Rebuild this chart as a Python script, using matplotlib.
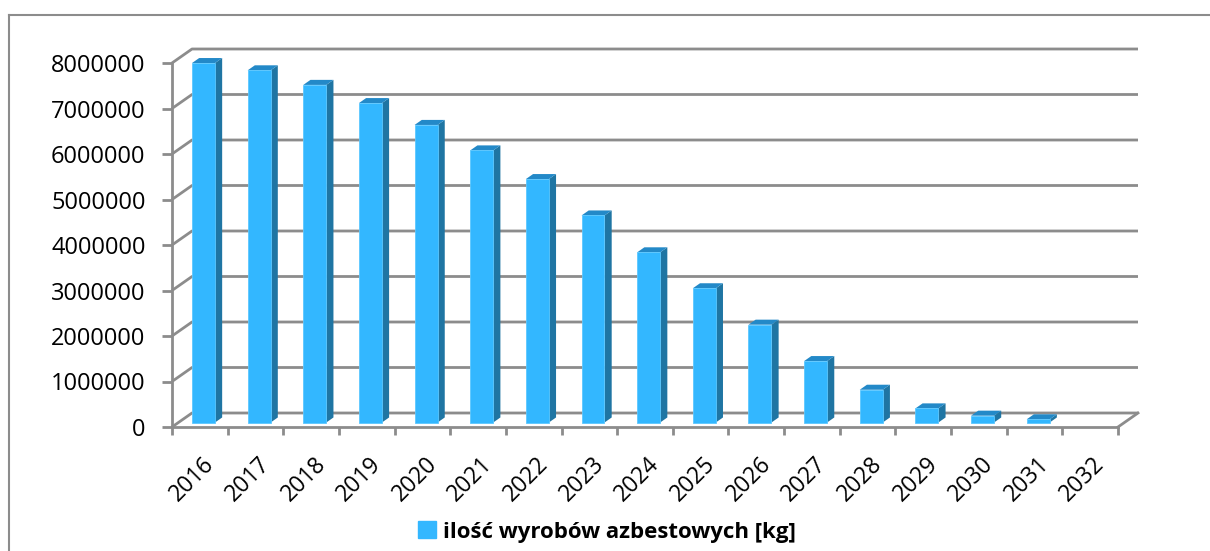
import matplotlib.pyplot as plt
from matplotlib.patches import Patch
from matplotlib.lines import Line2D

years = [str(y) for y in range(2016, 2033)]
values = [7900000, 7740000, 7420000, 7020000, 6540000, 5980000, 5350000,
          4550000, 3740000, 2950000, 2150000, 1350000, 720000, 310000,
          150000, 70000, 0]
yticks = list(range(0, 8000001, 1000000))
legend_label = 'ilość wyrobów azbestowych [kg]'

plt.rcParams['font.family'] = ['Open Sans', 'DejaVu Sans']

W, H = 1210, 551
fig = plt.figure(figsize=(W / 100, H / 100), dpi=100)
# front plane of the 3d box, in pixels
x0, x1, yb, yt = 172, 1118, 427, 63
ax = fig.add_axes([x0 / W, 1 - yb / H, (x1 - x0) / W, (yb - yt) / H])
n = len(years)
ymax = 8000000
ax.set_xlim(0, n)
ax.set_ylim(0, ymax)

# depth of the box in pixels -> data units
px_x = n / (x1 - x0)
px_y = ymax / (yb - yt)
DX, DY = 20 * px_x, 14 * px_y

grid = '#8c8c8c'
front = '#33b7ff'
side = '#1f75a3'
top = '#2389c8'

# back wall gridlines + left wall diagonals
for v in yticks:
    ax.plot([0, DX, n + DX], [v, v + DY, v + DY], color=grid, lw=2,
            solid_capstyle='butt', zorder=1, clip_on=False)
# floor right edge
ax.plot([n, n + DX], [0, DY], color=grid, lw=2, zorder=1, clip_on=False)

# 3d bars
f0, f1 = 0.32, 0.68
bw = 0.413
for i, v in enumerate(values):
    xl = i + 0.244 + f0 * DX
    xr = xl + bw
    yb0 = f0 * DY
    d = (f1 - f0)
    if v > 0:
        ax.fill([xr, xr + d * DX, xr + d * DX, xr],
                [yb0, yb0 + d * DY, yb0 + v + d * DY, yb0 + v],
                color=side, lw=0, zorder=3, clip_on=False)
        ax.fill([xl, xr, xr + d * DX, xl + d * DX],
                [yb0 + v, yb0 + v, yb0 + v + d * DY, yb0 + v + d * DY],
                color=top, lw=0, zorder=3, clip_on=False)
        ax.bar(xl, v, bottom=yb0, width=bw, align='edge', color=front,
               edgecolor='#5cc8ff', lw=0.6, zorder=4, clip_on=False)

for s in ['top', 'right']:
    ax.spines[s].set_visible(False)
for s in ['left', 'bottom']:
    ax.spines[s].set_color(grid)
    ax.spines[s].set_linewidth(2)

ax.set_yticks(yticks)
ax.set_yticklabels([str(v) for v in yticks])
ax.tick_params(axis='y', length=7, width=2, color=grid, pad=12,
               labelsize=17, labelcolor='black')
ax.set_xticks(range(n + 1))
ax.set_xticklabels([])
ax.set_xticks([i + 0.545 for i in range(n)], minor=True)
ax.set_xticklabels(years, minor=True, rotation=45, ha='right',
                   rotation_mode='anchor')
ax.tick_params(axis='x', which='major', length=6, width=2, color=grid)
ax.tick_params(axis='x', which='minor', length=0, pad=18, labelsize=16.5)

# chart border (cropped at right and bottom)
fig.add_artist(Line2D([9 / W, 9 / W], [0, 1 - 15 / H], color='#8c8c8c',
                      lw=1.5, transform=fig.transFigure))
fig.add_artist(Line2D([9 / W, 1], [1 - 15 / H, 1 - 15 / H], color='#8c8c8c',
                      lw=1.5, transform=fig.transFigure))

fig.legend(handles=[Patch(color=front, label=legend_label)],
           loc='center', bbox_to_anchor=(607 / W, 1 - 532 / H),
           frameon=False, handlelength=0.8, handleheight=0.8,
           handletextpad=0.3, prop={'weight': 'bold', 'size': 16})

fig.savefig('out.png', dpi=100)
